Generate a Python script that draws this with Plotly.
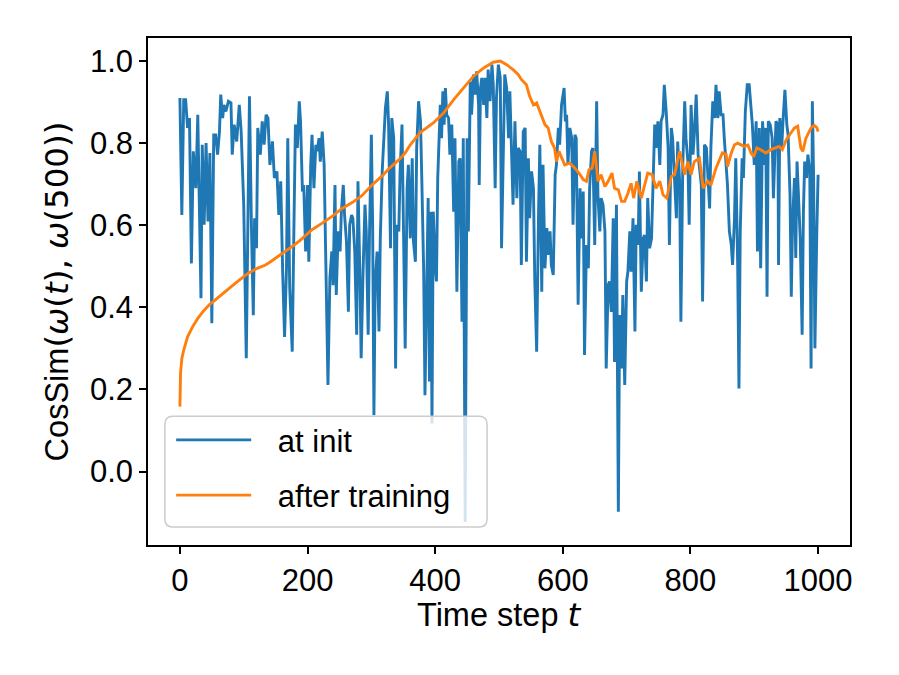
import plotly.graph_objects as go

# "at init" curve: (time step, cosine similarity)
init_t = [0, 3, 6, 9, 12, 15, 18, 21, 25, 28, 33, 35, 38, 41, 44, 47, 50, 53, 56, 59,
          62, 64, 67, 69, 72, 76, 80, 82, 85, 89, 93, 96, 100, 104, 107, 109, 112, 115, 117, 120,
          122, 126, 129, 132, 135, 138, 141, 145, 148, 152, 155, 158, 161, 164, 167, 169, 172, 176, 179, 181,
          184, 187, 189, 192, 194, 197, 200, 202, 205, 207, 210, 213, 215, 218, 220, 223, 226, 228, 231, 232,
          235, 238, 240, 243, 245, 248, 251, 253, 256, 258, 261, 264, 266, 269, 271, 274, 277, 279, 282, 284,
          287, 290, 292, 295, 297, 300, 302, 304, 306, 309, 312, 314, 317, 319, 322, 325, 327, 330, 332, 335,
          338, 340, 343, 345, 348, 353, 356, 358, 361, 364, 366, 369, 371, 374, 377, 379, 382, 384, 387, 389,
          391, 393, 395, 397, 400, 402, 404, 406, 408, 410, 412, 414, 416, 418, 421, 423, 426, 429, 431, 434,
          437, 439, 442, 444, 447, 450, 452, 455, 457, 460, 463, 465, 468, 469, 471, 473, 476, 478, 481, 483,
          486, 489, 491, 494, 496, 499, 502, 504, 507, 509, 512, 515, 517, 520, 522, 525, 528, 530, 533, 535,
          538, 541, 543, 546, 548, 551, 554, 556, 559, 562, 564, 567, 569, 572, 575, 577, 580, 582, 585, 588,
          590, 593, 595, 598, 601, 602, 604, 606, 608, 611, 614, 616, 619, 621, 624, 627, 629, 632, 634, 637,
          640, 642, 645, 647, 650, 653, 655, 658, 660, 663, 666, 668, 671, 673, 676, 679, 681, 684, 687, 689,
          692, 694, 697, 700, 702, 705, 707, 710, 713, 715, 718, 720, 723, 726, 728, 731, 733, 736, 739, 741,
          744, 746, 749, 752, 754, 757, 759, 762, 765, 767, 770, 772, 775, 778, 780, 783, 785, 788, 791, 793,
          796, 798, 801, 804, 806, 809, 812, 814, 817, 819, 822, 825, 827, 830, 832, 835, 838, 840, 843, 845,
          848, 851, 853, 856, 858, 861, 864, 866, 869, 871, 874, 876, 878, 881, 883, 886, 889, 892, 895, 897,
          900, 903, 905, 908, 910, 913, 916, 918, 920, 922, 925, 928, 930, 932, 934, 937, 938, 940, 943, 945,
          948, 951, 953, 956, 958, 960, 963, 965, 967, 969, 972, 975, 977, 979, 982, 984, 987, 989, 991, 993,
          995, 998, 1000]
init_sim = [0.91, 0.625, 0.906, 0.906, 0.837, 0.861, 0.507, 0.780, 0.690, 0.869, 0.422, 0.796, 0.601, 0.800, 0.609, 0.776, 0.361, 0.820, 0.820, 0.772,
            0.828, 0.918, 0.861, 0.893, 0.877, 0.902, 0.898, 0.772, 0.845, 0.804, 0.893, 0.828, 0.650, 0.276, 0.666, 0.914, 0.601, 0.381, 0.617, 0.544,
            0.837, 0.772, 0.853, 0.796, 0.869, 0.861, 0.747, 0.804, 0.715, 0.731, 0.625, 0.707, 0.487, 0.328, 0.495, 0.812, 0.450, 0.292, 0.633, 0.845,
            0.788, 0.902, 0.853, 0.682, 0.698, 0.536, 0.698, 0.511, 0.747, 0.820, 0.690, 0.796, 0.780, 0.812, 0.755, 0.828, 0.747, 0.536, 0.324, 0.211,
            0.471, 0.536, 0.454, 0.698, 0.430, 0.585, 0.536, 0.633, 0.698, 0.625, 0.560, 0.389, 0.601, 0.625, 0.617, 0.536, 0.333, 0.707, 0.479, 0.276,
            0.487, 0.650, 0.585, 0.333, 0.568, 0.820, 0.601, 0.137, 0.463, 0.536, 0.341, 0.568, 0.731, 0.788, 0.885, 0.926, 0.845, 0.544, 0.861, 0.812,
            0.251, 0.601, 0.585, 0.731, 0.845, 0.300, 0.690, 0.747, 0.568, 0.763, 0.560, 0.511, 0.788, 0.902, 0.853, 0.715, 0.487, 0.186, 0.552, 0.666,
            0.219, 0.633, 0.117, 0.633, 0.503, 0.463, 0.715, 0.828, 0.893, 0.812, 0.926, 0.845, 0.934, 0.869, 0.861, 0.772, 0.845, 0.633, 0.812, 0.438,
            0.755, 0.763, 0.365, 0.812, -0.123, 0.812, 0.585, 0.950, 0.869, 0.967, 0.918, 0.975, 0.893, 0.698, 0.934, 0.959, 0.893, 0.959, 0.861, 0.979,
            0.902, 0.991, 0.942, 0.690, 0.910, 0.991, 0.959, 0.544, 0.869, 0.967, 0.934, 0.812, 0.926, 0.788, 0.650, 0.853, 0.666, 0.788, 0.780, 0.503,
            0.828, 0.837, 0.511, 0.763, 0.617, 0.731, 0.690, 0.471, 0.292, 0.633, 0.796, 0.438, 0.747, 0.495, 0.593, 0.528, 0.585, 0.503, 0.479, 0.723,
            0.747, 0.837, 0.796, 0.893, 0.926, 0.934, 0.853, 0.869, 0.747, 0.837, 0.812, 0.601, 0.820, 0.812, 0.406, 0.690, 0.568, 0.682, 0.284, 0.552,
            0.495, 0.690, 0.780, 0.788, 0.552, 0.902, 0.674, 0.585, 0.666, 0.650, 0.585, 0.251, 0.454, 0.463, 0.389, 0.617, 0.267, 0.650, -0.098, 0.381,
            0.251, 0.430, 0.211, 0.463, 0.487, 0.585, 0.487, 0.617, 0.341, 0.601, 0.552, 0.731, 0.438, 0.568, 0.576, 0.463, 0.666, 0.544, 0.568, 0.690,
            0.845, 0.788, 0.853, 0.747, 0.853, 0.869, 0.942, 0.877, 0.788, 0.552, 0.837, 0.812, 0.715, 0.617, 0.804, 0.707, 0.365, 0.747, 0.902, 0.812,
            0.755, 0.601, 0.893, 0.772, 0.820, 0.918, 0.772, 0.739, 0.698, 0.414, 0.796, 0.788, 0.731, 0.641, 0.788, 0.902, 0.861, 0.942, 0.861, 0.926,
            0.869, 0.869, 0.812, 0.731, 0.698, 0.585, 0.552, 0.503, 0.617, 0.763, 0.503, 0.202, 0.585, 0.763, 0.715, 0.877, 0.942, 0.942, 0.893, 0.845,
            0.747, 0.853, 0.536, 0.837, 0.495, 0.853, 0.747, 0.837, 0.426, 0.853, 0.845, 0.812, 0.666, 0.739, 0.853, 0.845, 0.503, 0.861, 0.788, 0.853,
            0.930, 0.845, 0.820, 0.674, 0.426, 0.609, 0.715, 0.520, 0.755, 0.682, 0.568, 0.333, 0.633, 0.755, 0.715, 0.772, 0.731, 0.251, 0.902, 0.715,
            0.300, 0.585, 0.723]

# "after training" curve
trained_t = [0, 1, 3, 6, 12, 20, 28, 38, 46, 59, 69, 80, 92, 106, 121, 134, 142, 158, 173, 181,
             192, 207, 223, 239, 254, 270, 285, 301, 317, 327, 343, 353, 361, 377, 397, 413, 429, 444, 460, 476,
             491, 502, 512, 522, 530, 535, 543, 548, 554, 559, 564, 572, 577, 582, 587, 590, 594, 598, 603, 611,
             619, 627, 632, 637, 641, 646, 650, 653, 655, 660, 666, 671, 677, 681, 687, 692, 697, 702, 707, 711,
             716, 723, 733, 740, 746, 752, 757, 763, 770, 775, 783, 791, 796, 801, 806, 814, 820, 827, 832, 840,
             850, 856, 858, 864, 869, 874, 879, 884, 890, 895, 899, 904, 910, 918, 926, 934, 939, 944, 950, 957,
             963, 968, 973, 976, 981, 989, 994, 998, 1000]
trained_sim = [0.158, 0.24, 0.275, 0.296, 0.328, 0.353, 0.373, 0.393, 0.406, 0.422, 0.436, 0.450, 0.465, 0.482, 0.495, 0.503, 0.511, 0.528, 0.544, 0.554,
               0.568, 0.589, 0.605, 0.622, 0.641, 0.655, 0.672, 0.698, 0.720, 0.737, 0.759, 0.776, 0.796, 0.826, 0.849, 0.873, 0.906, 0.934, 0.963, 0.983,
               0.997, 1.000, 0.991, 0.979, 0.967, 0.955, 0.942, 0.914, 0.893, 0.898, 0.877, 0.845, 0.837, 0.804, 0.788, 0.755, 0.780, 0.763, 0.747, 0.751,
               0.739, 0.723, 0.711, 0.707, 0.735, 0.739, 0.780, 0.739, 0.707, 0.723, 0.694, 0.707, 0.727, 0.690, 0.686, 0.658, 0.658, 0.678, 0.702, 0.666,
               0.707, 0.666, 0.727, 0.723, 0.690, 0.707, 0.674, 0.666, 0.719, 0.723, 0.780, 0.723, 0.755, 0.723, 0.755, 0.763, 0.690, 0.707, 0.698, 0.739,
               0.776, 0.772, 0.743, 0.776, 0.796, 0.800, 0.796, 0.792, 0.795, 0.776, 0.767, 0.788, 0.784, 0.776, 0.784, 0.788, 0.792, 0.784, 0.808, 0.824,
               0.837, 0.841, 0.788, 0.780, 0.812, 0.837, 0.843, 0.838, 0.828]

x_ticks = [0, 200, 400, 600, 800, 1000]

fig = go.Figure()
fig.add_trace(go.Scatter(x=init_t, y=init_sim, mode="lines", name="\u2002\u2009at init",
                         legendgroup="a", line=dict(color="#1f77b4", width=2.9)))
fig.add_trace(go.Scatter(x=trained_t, y=trained_sim, mode="lines", name="\u2002\u2009after training",
                         legendgroup="b", line=dict(color="#ff7f0e", width=2.9)))

# rounded legend frame (matplotlib style), drawn in paper coordinates
x0, x1, y0, y1 = 0.024, 0.483, 0.0355, 0.254
rx, ry = 8 / 702, 8 / 507
frame = (f"M{x0 + rx},{y0} L{x1 - rx},{y0} Q{x1},{y0} {x1},{y0 + ry} "
         f"L{x1},{y1 - ry} Q{x1},{y1} {x1 - rx},{y1} L{x0 + rx},{y1} "
         f"Q{x0},{y1} {x0},{y1 - ry} L{x0},{y0 + ry} Q{x0},{y0} {x0 + rx},{y0} Z")
fig.add_shape(type="path", path=frame, xref="paper", yref="paper", layer="above",
              fillcolor="rgba(255,255,255,0.8)", line=dict(color="#cccccc", width=1.5))

axis_style = dict(showline=True, linecolor="black", linewidth=1.5, mirror=True,
                  ticks="outside", ticklen=7, tickwidth=1.5, tickcolor="black",
                  showgrid=False, zeroline=False, tickfont=dict(size=31))

math = '<span style="font-family:DejaVu Sans">{}</span>'
x_title = "Time step " + math.format("<i>t</i>")
y_title = "CosSim" + math.format("(<i>ω</i>(<i>t</i>), <i>ω</i>(500))")

# x label as an annotation so it can sit a little closer to the tick labels
fig.add_annotation(text=x_title, xref="paper", yref="paper", x=0.5, y=-0.139,
                   xanchor="center", yanchor="middle", showarrow=False,
                   font=dict(size=32.5))

fig.update_layout(
    width=899, height=675,
    # the page adds an 8px body margin, so the margins are trimmed to match the reference box
    margin=dict(l=140, r=57, t=30, b=138),
    plot_bgcolor="white", paper_bgcolor="white",
    font=dict(family="Liberation Sans, Arial, sans-serif", size=31, color="black"),
    xaxis=dict(range=[-50, 1050], tickvals=x_ticks, **axis_style),
    yaxis=dict(range=[-0.179, 1.056], tick0=0, dtick=0.2, tickformat=".1f",
               title=dict(text=y_title, standoff=12, font=dict(size=32.5)), **axis_style),
    legend=dict(x=0.033, y=0.045, xanchor="left", yanchor="bottom",
                bgcolor="rgba(0,0,0,0)", borderwidth=0, itemwidth=75,
                tracegroupgap=12, font=dict(size=31)),
    showlegend=True,
)

fig.write_html("out.html")
